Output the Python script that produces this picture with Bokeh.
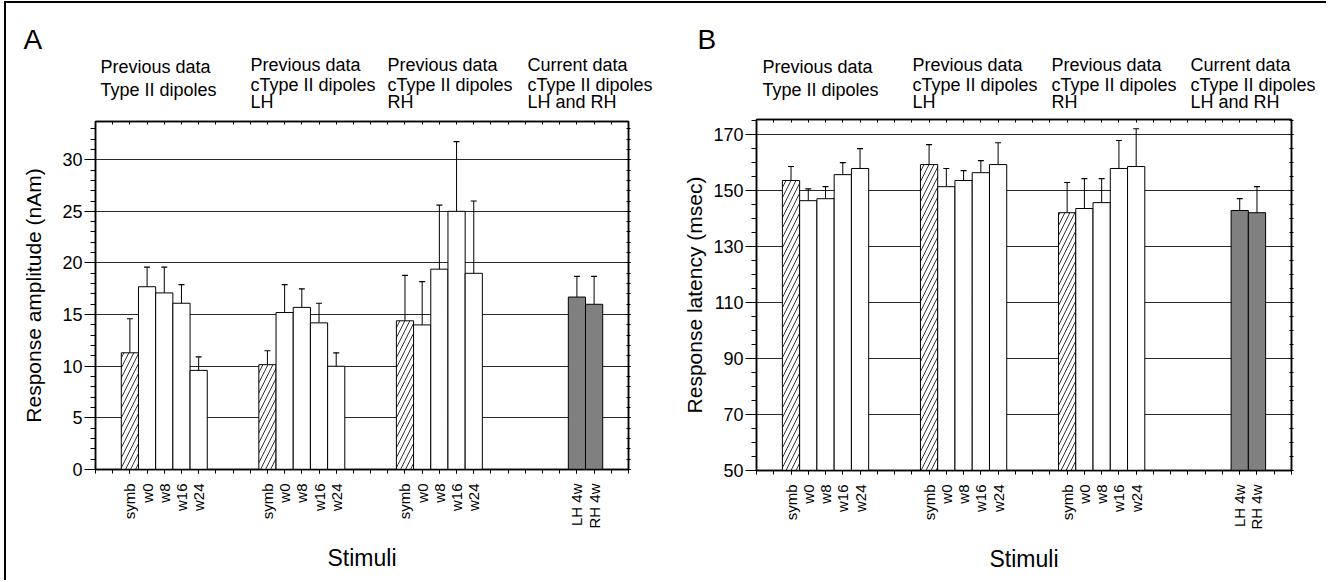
import math
from bokeh.plotting import figure
from bokeh.models import (Range1d, FixedTicker, LinearAxis, Whisker, TeeHead,
                          ColumnDataSource)
from bokeh.core.properties import value
from bokeh.layouts import row, column
from bokeh.embed import file_html
from bokeh.resources import INLINE

FONT = "Liberation Sans"

# ---------------- data ----------------
stimuli = ["symb", "w0", "w8", "w16", "w24",
           "symb", "w0", "w8", "w16", "w24",
           "symb", "w0", "w8", "w16", "w24",
           "LH 4w", "RH 4w"]
group_sizes = [5, 5, 5, 2]
group_titles = [["Previous data", "Type II dipoles"],
                ["Previous data", "cType II dipoles", "LH"],
                ["Previous data", "cType II dipoles", "RH"],
                ["Current data", "cType II dipoles", "LH and RH"]]

amp_mean = [11.3, 17.7, 17.1, 16.1, 9.6,
            10.15, 15.2, 15.7, 14.2, 10.0,
            14.4, 14.0, 19.4, 25.0, 19.0,
            16.7, 16.0]
amp_err = [3.3, 1.9, 2.5, 1.8, 1.3,
           1.35, 2.7, 1.8, 1.9, 1.3,
           4.4, 4.2, 6.2, 6.75, 7.0,
           2.0, 2.7]

lat_mean = [153.6, 146.4, 147.1, 155.7, 157.9,
            159.3, 151.4, 153.6, 156.4, 159.3,
            142.1, 143.6, 145.7, 157.9, 158.6,
            142.9, 142.1]
lat_err = [5.0, 4.2, 4.3, 4.3, 7.1,
           7.1, 6.5, 3.5, 4.3, 7.8,
           10.8, 10.7, 8.6, 10.0, 13.5,
           4.2, 9.3]

# ---------------- layout ----------------
GROUP_START = [2, 10, 18, 28]
XMAX = 31
xs = []
for g, n in enumerate(group_sizes):
    xs += [GROUP_START[g] + i for i in range(n)]


def fill_for(name):
    if name == "symb":
        return "white", "/"
    if name.endswith("4w"):
        return "#808080", " "
    return "white", " "


def make_header(letter, width, height, group_x, letter_x):
    h = figure(width=width, height=height, output_backend="svg",
               toolbar_location=None, x_range=Range1d(0, width),
               y_range=Range1d(height, 0), min_border=0, title=None,
               x_axis_location=None, y_axis_location=None,
               outline_line_color=None, background_fill_color="white",
               border_fill_color="white", frame_align=False)
    h.grid.visible = False
    tx, ty, tt = [], [], []
    for g, lines in enumerate(group_titles):
        bases = [63, 86] if len(lines) == 2 else [61, 81, 98]
        for line, b in zip(lines, bases):
            tx.append(group_x[g])
            ty.append(b)
            tt.append(line)
    h.text(x=tx, y=ty, text=tt, text_font=value(FONT), text_font_size="18px",
           text_color="black", text_baseline="alphabetic", text_align="left")
    h.text(x=[letter_x], y=[36], text=[letter], text_font=value(FONT),
           text_font_size="28px", text_color="black",
           text_baseline="alphabetic", text_align="left")
    return h


def make_panel(mean, err, y0, y1, yticks, yminor, ylabel,
               width, height, bl, br, bt, bb, ylabel_standoff):
    p = figure(width=width, height=height, output_backend="svg",
               toolbar_location=None, x_range=Range1d(0, XMAX),
               y_range=Range1d(y0, y1), min_border_left=bl,
               min_border_right=br, min_border_top=bt, min_border_bottom=bb,
               title=None, background_fill_color="white",
               border_fill_color="white", frame_align=False)
    p.outline_line_color = "black"
    p.outline_line_width = 1.5
    p.xgrid.visible = False
    p.ygrid.ticker = FixedTicker(ticks=yticks)
    p.ygrid.grid_line_color = "#2a2a2a"
    p.ygrid.grid_line_width = 1

    fills = [fill_for(s) for s in stimuli]
    src = ColumnDataSource(dict(x=xs, top=mean, bottom=[y0] * len(xs),
                                fill=[f[0] for f in fills],
                                hatch=[f[1] for f in fills],
                                upper=[m + e for m, e in zip(mean, err)]))
    p.vbar(x="x", top="top", bottom="bottom", width=1.0, source=src,
           fill_color="fill", line_color="black", line_width=1,
           hatch_pattern="hatch", hatch_color="black", hatch_scale=10,
           hatch_weight=0.8)
    p.add_layout(Whisker(base="x", lower="top", upper="upper", source=src,
                         dimension="height", line_color="black", line_width=1,
                         lower_head=None,
                         upper_head=TeeHead(size=6, line_color="black",
                                            line_width=1.2)))

    # bottom axis
    xa = p.xaxis[0]
    xa.ticker = FixedTicker(ticks=xs, minor_ticks=list(range(0, XMAX + 1)))
    xa.major_label_overrides = {x: s for x, s in zip(xs, stimuli)}
    xa.major_label_orientation = math.pi / 2
    xa.major_label_text_font = FONT
    xa.major_label_text_font_size = "15px"
    xa.major_label_text_color = "black"
    xa.major_label_standoff = 10
    xa.major_tick_out = 4
    xa.minor_tick_out = 4
    xa.major_tick_in = 0
    xa.minor_tick_in = 0
    xa.axis_line_width = 1.5
    xa.axis_label = "Stimuli"
    xa.axis_label_text_font = FONT
    xa.axis_label_text_font_size = "23px"
    xa.axis_label_text_font_style = "normal"
    xa.axis_label_text_color = "black"
    xa.axis_label_standoff = 13

    # left axis
    ya = p.yaxis[0]
    ya.ticker = FixedTicker(ticks=yticks, minor_ticks=yminor)
    ya.major_label_text_font = FONT
    ya.major_label_text_font_size = "18px"
    ya.major_label_text_color = "black"
    ya.major_label_standoff = 2
    ya.major_tick_out = 11
    ya.minor_tick_out = 5
    ya.major_tick_in = 0
    ya.minor_tick_in = 0
    ya.axis_line_width = 1.5
    ya.axis_label = ylabel
    ya.axis_label_text_font = FONT
    ya.axis_label_text_font_size = "21px"
    ya.axis_label_text_font_style = "normal"
    ya.axis_label_text_color = "black"
    ya.axis_label_standoff = ylabel_standoff

    # top axis (ticks only)
    top = LinearAxis(ticker=FixedTicker(ticks=[], minor_ticks=list(range(0, XMAX + 1))),
                     major_label_text_color=None, minor_tick_in=3,
                     minor_tick_out=0, major_tick_in=0, major_tick_out=0,
                     major_label_standoff=0, axis_line_width=1.5)
    p.add_layout(top, "above")
    # right axis (ticks only)
    right = LinearAxis(ticker=FixedTicker(ticks=yticks, minor_ticks=yminor),
                       major_label_text_color=None, major_tick_in=3,
                       major_tick_out=2, minor_tick_in=2, minor_tick_out=2,
                       major_label_standoff=0, axis_line_width=1.5)
    p.add_layout(right, "right")
    return p


hA = make_header("A", 666, 108, [94, 244, 381, 521], 17)
pA = make_panel(amp_mean, amp_err, 0, 33.7,
                [0, 5, 10, 15, 20, 25, 30], list(range(0, 34)),
                "Response amplitude (nAm)",
                666, 469, 89, 44, 10, 111, 14)
hB = make_header("B", 654, 108, [90, 240, 379, 518], 25)
pB = make_panel(lat_mean, lat_err, 50, 175.4,
                [50, 70, 90, 110, 130, 150, 170], list(range(50, 176, 5)),
                "Response latency (msec)",
                654, 469, 84, 35, 8, 110, 4)

layout = row(column(hA, pA), column(hB, pB), margin=(1, 0, 0, 4),
             styles={"border-top": "2px solid black",
                     "border-left": "2px solid black"})

open("out.html", "w").write(file_html(layout, INLINE))
